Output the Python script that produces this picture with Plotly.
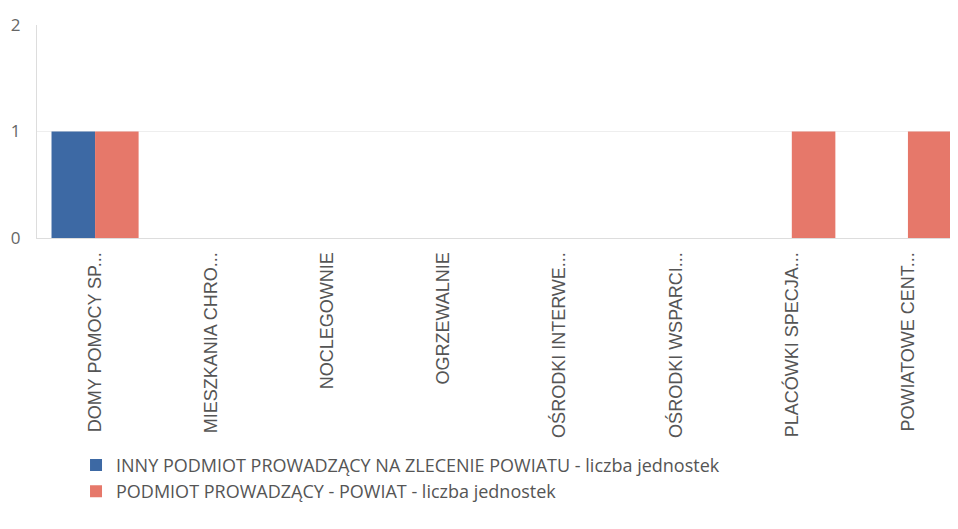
import plotly.graph_objects as go

# ── Data ──────────────────────────────────────────────────────────────────────
categories = [
    "DOMY POMOCY SP...",
    "MIESZKANIA CHRO...",
    "NOCLEGOWNIE",
    "OGRZEWALNIE",
    "OŚRODKI INTERWE...",
    "OŚRODKI WSPARCI...",
    "PLACÓWKI SPECJA...",
    "POWIATOWE CENT...",
]
inny_podmiot = [1, 0, 0, 0, 0, 0, 0, 0]
powiat = [1, 0, 0, 0, 0, 0, 1, 1]

series_names = [
    "INNY PODMIOT PROWADZĄCY NA ZLECENIE POWIATU - liczba jednostek",
    "PODMIOT PROWADZĄCY - POWIAT - liczba jednostek",
]
y_ticks = [0, 1, 2]

BLUE = "#3d69a4"
RED = "#e6786a"

fig = go.Figure()
fig.add_trace(go.Bar(x=categories, y=inny_podmiot, name=series_names[0],
                     marker=dict(color=BLUE, line=dict(width=0))))
fig.add_trace(go.Bar(x=categories, y=powiat, name=series_names[1],
                     marker=dict(color=RED, line=dict(width=0))))

# page body adds an 8px offset, margins below take that into account
fig.update_layout(
    width=958,
    height=529,
    barmode="group",
    bargap=0.25,
    bargroupgap=0,
    plot_bgcolor="white",
    paper_bgcolor="white",
    margin=dict(l=29, r=0, t=17, b=299, autoexpand=False),
    font=dict(family="Open Sans", color="#555555"),
    showlegend=True,
    legend=dict(
        orientation="v",
        x=0.042,
        xanchor="left",
        y=-0.98,
        yanchor="top",
        font=dict(size=18, family="Open Sans", color="#555555"),
        tracegroupgap=0,
        itemwidth=30,
    ),
    xaxis=dict(
        tickangle=-90,
        tickfont=dict(size=18, family="Liberation Sans", color="#555555"),
        showline=True,
        linecolor="#dddddd",
        linewidth=1,
        showgrid=False,
        ticks="outside",
        ticklen=6,
        tickcolor="rgba(0,0,0,0)",
    ),
    yaxis=dict(
        range=[0, 2],
        tickvals=y_ticks,
        tickfont=dict(size=17, family="Open Sans", color="#666666"),
        showgrid=True,
        gridcolor="#eeeeee",
        showline=True,
        linecolor="#dddddd",
        linewidth=1,
        zeroline=False,
        ticks="outside",
        ticklen=12,
        tickcolor="rgba(0,0,0,0)",
    ),
)

fig.write_html("out.html")
